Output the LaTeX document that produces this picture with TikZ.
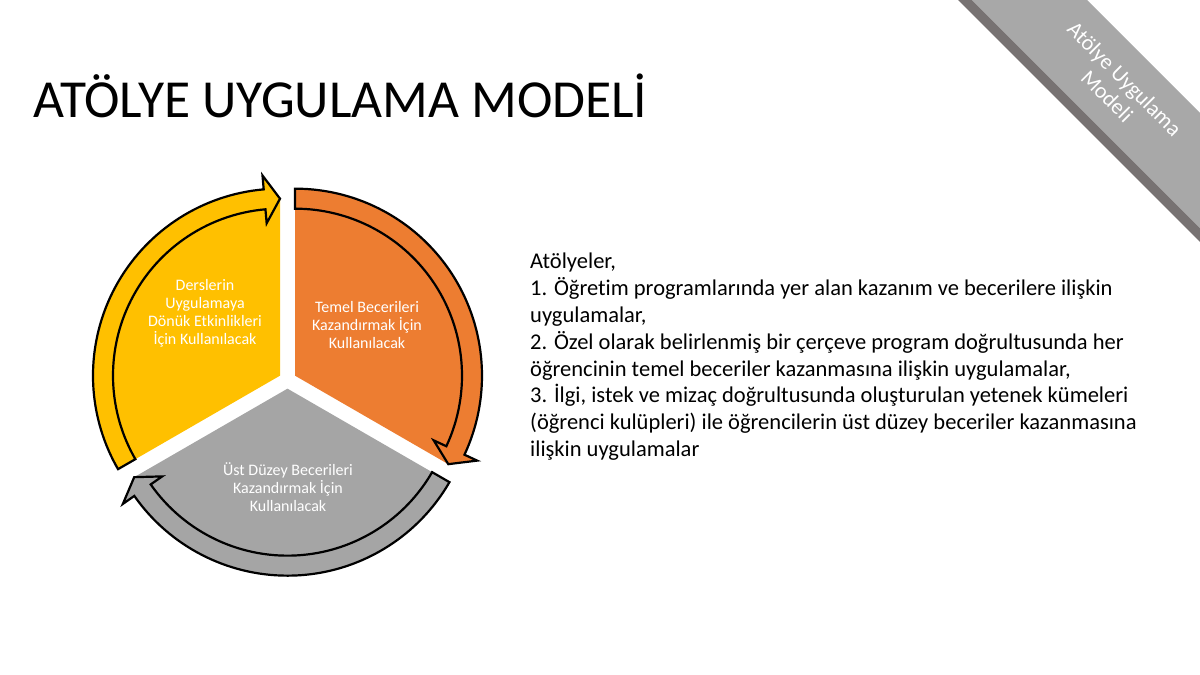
\documentclass[tikz,border=0pt]{standalone}
\usepackage{fontspec}
\usetikzlibrary{calc}
\setmainfont{Carlito}[Ligatures=NoCommon]
\definecolor{cyellow}{HTML}{FFC000}
\definecolor{corange}{HTML}{ED7D31}
\definecolor{cgray}{HTML}{A5A5A5}
\definecolor{ribbonlight}{HTML}{A8A8A8}
\definecolor{ribbondark}{HTML}{777272}
\begin{document}
\begin{tikzpicture}[x=1pt,y=1pt,
  cyclearrow/.style={draw=black,line width=2.2pt,line join=miter},
  seglabel/.style={text=white,align=center,font=\fontsize{16}{18}\selectfont,inner sep=0pt}]
\useasboundingbox (0,0) rectangle (1200,675);
% centres of the three exploded segments
\coordinate (C) at (287.5,295);
\coordinate (Cy) at ($(C)+(150:8.66)$);
\coordinate (Co) at ($(C)+(30:8.66)$);
\coordinate (Cg) at ($(C)+(270:8.66)$);
% sectors
\fill[cyellow,shift={(Cy)}] (0,0) -- (90:177) arc[start angle=90,end angle=210,radius=177] -- cycle;
\fill[corange,shift={(Co)}] (0,0) -- (-30:177) arc[start angle=-30,end angle=90,radius=177] -- cycle;
\fill[cgray,shift={(Cg)}] (0,0) -- (210:177) arc[start angle=210,end angle=330,radius=177] -- cycle;
% circular arrows
\foreach \cen/\a/\col in {Cy/210/cyellow, Co/90/corange, Cg/330/cgray}{
  \pgfmathsetmacro{\b}{\a-115}
  \pgfmathsetmacro{\t}{\a-120}
  \draw[cyclearrow,fill=\col,shift={(\cen)}]
    (\a:187) arc[start angle=\a,end angle=\b,radius=187]
    -- (\b:201) -- (\t:177) -- (\b:153) -- (\b:167)
    arc[start angle=\b,end angle=\a,radius=167] -- cycle;
}
% segment labels
\node[seglabel] (ly) at (205,362) {Derslerin\\Uygulamaya\\Dönük Etkinlikleri\\İçin Kullanılacak};
\node[seglabel] (lo) at (367,349.5) {Temel Becerileri\\Kazandırmak İçin\\Kullanılacak};
\node[seglabel] (lg) at (288,187.5) {Üst Düzey Becerileri\\Kazandırmak İçin\\Kullanılacak};
% title
\node[anchor=base west,inner sep=0pt,font=\fontsize{53.5}{60}\selectfont] (title) at (33,557) {ATÖLYE UYGULAMA MODELİ};
% body text
\node[anchor=north west,inner sep=0pt,align=left,font=\fontsize{22.5}{26.8}\selectfont] (body) at (530,422)
{Atölyeler,\\
1. Öğretim programlarında yer alan kazanım ve becerilere ilişkin\\
uygulamalar,\\
2. Özel olarak belirlenmiş bir çerçeve program doğrultusunda her\\
öğrencinin temel beceriler kazanmasına ilişkin uygulamalar,\\
3. İlgi, istek ve mizaç doğrultusunda oluşturulan yetenek kümeleri\\
(öğrenci kulüpleri) ile öğrencilerin üst düzey beceriler kazanmasına\\
ilişkin uygulamalar};
% corner ribbon
\fill[ribbondark] (958,675) -- (972,675) -- (1200,447) -- (1200,433) -- cycle;
\fill[ribbonlight] (972,675) -- (1087,675) -- (1200,562) -- (1200,447) -- cycle;
\node[rotate=-45,text=white,align=center,inner sep=0pt,font=\fontsize{22}{24.7}\selectfont] (ribbon) at (1116,587.5) {Atölye Uygulama\\Modeli};
\end{tikzpicture}
\end{document}
